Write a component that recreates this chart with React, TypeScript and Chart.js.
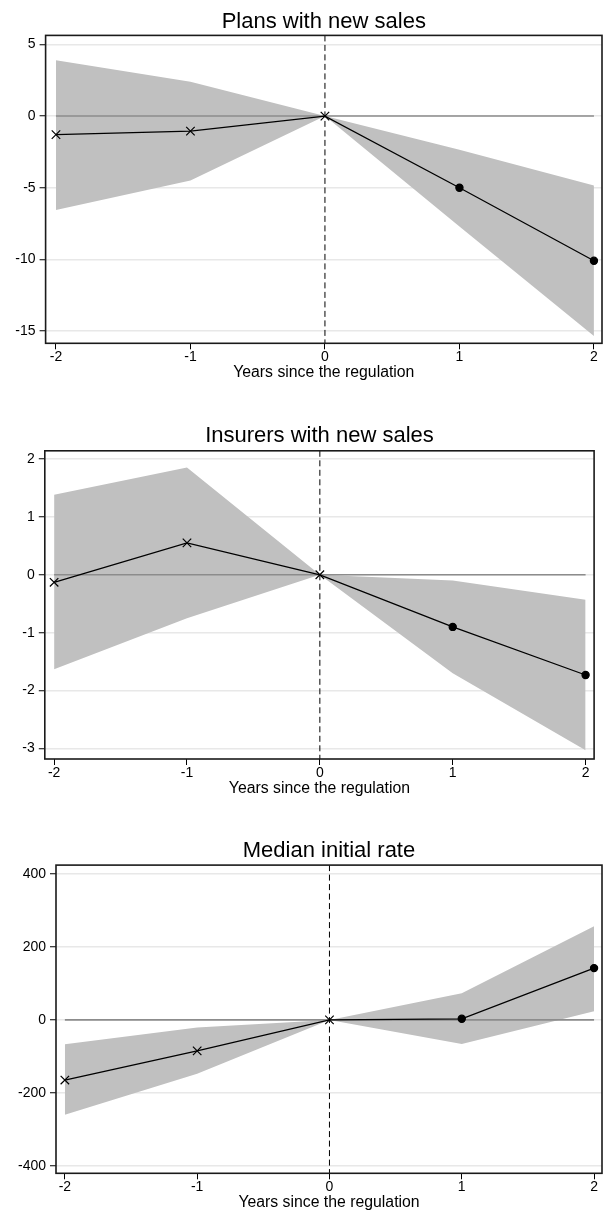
import React, { useEffect, useRef } from 'react';
import { Chart, registerables } from 'chart.js';

Chart.register(...registerables);

const FONT = "'Liberation Sans', Arial, Helvetica, sans-serif";

// ---------- data ----------
const years = [-2, -1, 0, 1, 2];
const xTickValues = [-2, -1, 0, 1, 2];
const xAxisLabel = 'Years since the regulation';

const plansTitle = 'Plans with new sales';
const plansEstimate = [-1.3, -1.05, 0, -5.0, -10.1];
const plansUpper = [3.9, 2.4, 0, -2.35, -4.85];
const plansLower = [-6.55, -4.5, 0, -7.7, -15.35];
const plansTicks = [5, 0, -5, -10, -15];

const insurersTitle = 'Insurers with new sales';
const insurersEstimate = [-0.13, 0.55, 0, -0.9, -1.73];
const insurersUpper = [1.38, 1.85, 0, -0.1, -0.43];
const insurersLower = [-1.63, -0.75, 0, -1.7, -3.03];
const insurersTicks = [2, 1, 0, -1, -2, -3];

const rateTitle = 'Median initial rate';
const rateEstimate = [-165, -85, 0, 3, 142];
const rateUpper = [-67, -21, 0, 73, 257];
const rateLower = [-260, -148, 0, -66, 24];
const rateTicks = [400, 200, 0, -200, -400];

// ---------- layout (per panel) ----------
type Layout = {
  height: number;
  yAxisWidth: number;
  padRight: number;
  padBottom: number;
  titleTop: number;
  titleBottom: number;
  xMin: number;
  xMax: number;
  yMin: number;
  yMax: number;
};

const framePlugin = {
  id: 'frameAndVline',
  afterDatasetsDraw(chart: any) {
    const { ctx, chartArea: a, scales } = chart;
    const px = scales.x.getPixelForValue(0);
    ctx.save();
    ctx.strokeStyle = '#000';
    ctx.lineWidth = 1;
    ctx.setLineDash([6, 3.5]);
    ctx.beginPath();
    ctx.moveTo(px, a.top);
    ctx.lineTo(px, a.bottom);
    ctx.stroke();
    ctx.setLineDash([]);
    ctx.lineWidth = 1.6;
    ctx.strokeStyle = '#1a1a1a';
    ctx.strokeRect(a.left, a.top, a.right - a.left, a.bottom - a.top);
    ctx.restore();
  },
};

function pts(vals: number[]) {
  return years.map((x, i) => ({ x, y: vals[i] }));
}

function makeConfig(
  title: string,
  est: number[],
  up: number[],
  lo: number[],
  yTicks: number[],
  L: Layout
): any {
  return {
    type: 'line',
    data: {
      datasets: [
        {
          data: pts(up),
          borderColor: 'rgba(0,0,0,0)',
          borderWidth: 0,
          pointRadius: 0,
          backgroundColor: '#c0c0c0',
          fill: '+1',
          order: 3,
        },
        {
          data: pts(lo),
          borderColor: 'rgba(0,0,0,0)',
          borderWidth: 0,
          pointRadius: 0,
          fill: false,
          order: 4,
        },
        {
          data: [
            { x: years[0], y: 0 },
            { x: years[years.length - 1], y: 0 },
          ],
          borderColor: '#8c8c8c',
          borderWidth: 1.6,
          pointRadius: 0,
          fill: false,
          order: 2,
        },
        {
          data: pts(est),
          borderColor: '#000',
          borderWidth: 1.3,
          fill: false,
          tension: 0,
          pointStyle: years.map((y) => (y <= 0 ? 'crossRot' : 'circle')),
          pointRadius: years.map((y) => (y <= 0 ? 6 : 3.6)),
          pointBackgroundColor: '#000',
          pointBorderColor: '#000',
          pointBorderWidth: 1.2,
          order: 1,
        },
      ],
    },
    options: {
      animation: false,
      responsive: false,
      devicePixelRatio: 1,
      events: [],
      layout: {
        autoPadding: false,
        padding: { left: 0, top: 0, right: L.padRight, bottom: L.padBottom },
      },
      plugins: {
        legend: { display: false },
        tooltip: { enabled: false },
        title: {
          display: true,
          text: title,
          fullSize: false,
          color: '#000',
          font: { family: FONT, size: 22, weight: 'normal', lineHeight: 1.2 },
          padding: { top: L.titleTop, bottom: L.titleBottom },
        },
      },
      scales: {
        x: {
          type: 'linear',
          min: L.xMin,
          max: L.xMax,
          afterBuildTicks: (s: any) => {
            s.ticks = xTickValues.map((v) => ({ value: v }));
          },
          afterFit: (s: any) => {
            s.height = 39;
            s.paddingLeft = 0;
            s.paddingRight = 0;
          },
          ticks: {
            color: '#000',
            padding: 1,
            maxRotation: 0,
            autoSkip: false,
            font: { family: FONT, size: 14, lineHeight: 1 },
            callback: (v: any) => String(v),
          },
          grid: {
            drawOnChartArea: false,
            tickLength: 6,
            tickColor: '#000',
            tickWidth: 1,
          },
          border: { display: false },
          title: {
            display: true,
            text: xAxisLabel,
            color: '#000',
            font: { family: FONT, size: 15.8, lineHeight: 1.2 },
            padding: { top: 0, bottom: 0 },
          },
        },
        y: {
          type: 'linear',
          min: L.yMin,
          max: L.yMax,
          afterBuildTicks: (s: any) => {
            s.ticks = yTicks.map((v) => ({ value: v }));
          },
          afterFit: (s: any) => {
            s.width = L.yAxisWidth;
            s.paddingTop = 0;
            s.paddingBottom = 0;
          },
          ticks: {
            color: '#000',
            padding: 4,
            autoSkip: false,
            font: { family: FONT, size: 14, lineHeight: 1 },
            callback: (v: any) => String(v),
          },
          grid: {
            color: '#e8e8e8',
            lineWidth: 1.5,
            tickLength: 6,
            tickColor: '#000',
            tickWidth: 1,
          },
          border: { display: false },
        },
      },
    },
    plugins: [framePlugin],
  };
}

function Panel(props: {
  title: string;
  est: number[];
  up: number[];
  lo: number[];
  yTicks: number[];
  layout: Layout;
}) {
  const ref = useRef<HTMLCanvasElement | null>(null);
  useEffect(() => {
    if (!ref.current) return;
    const chart = new Chart(
      ref.current,
      makeConfig(props.title, props.est, props.up, props.lo, props.yTicks, props.layout)
    );
    return () => chart.destroy();
  }, []);
  return (
    <canvas
      ref={ref}
      width={605}
      height={props.layout.height}
      style={{ display: 'block', width: 605, height: props.layout.height }}
    />
  );
}

const plansLayout: Layout = {
  height: 400,
  yAxisWidth: 45.6,
  padRight: 3,
  padBottom: 17.7,
  titleTop: 9,
  titleBottom: 0,
  xMin: -2.077,
  xMax: 2.06,
  yMin: -15.86,
  yMax: 5.63,
};

const insurersLayout: Layout = {
  height: 410,
  yAxisWidth: 44.8,
  padRight: 10.9,
  padBottom: 12,
  titleTop: 23,
  titleBottom: 1.4,
  xMin: -2.07,
  xMax: 2.064,
  yMin: -3.18,
  yMax: 2.14,
};

const rateLayout: Layout = {
  height: 410,
  yAxisWidth: 56,
  padRight: 3,
  padBottom: 7.7,
  titleTop: 27.5,
  titleBottom: 1.2,
  xMin: -2.067,
  xMax: 2.06,
  yMin: -420.8,
  yMax: 424.6,
};

export default function App() {
  return (
    <div
      style={{
        position: 'absolute',
        left: 0,
        top: 0,
        width: 605,
        height: 1220,
        background: '#fff',
      }}
    >
      <Panel
        title={plansTitle}
        est={plansEstimate}
        up={plansUpper}
        lo={plansLower}
        yTicks={plansTicks}
        layout={plansLayout}
      />
      <Panel
        title={insurersTitle}
        est={insurersEstimate}
        up={insurersUpper}
        lo={insurersLower}
        yTicks={insurersTicks}
        layout={insurersLayout}
      />
      <Panel
        title={rateTitle}
        est={rateEstimate}
        up={rateUpper}
        lo={rateLower}
        yTicks={rateTicks}
        layout={rateLayout}
      />
    </div>
  );
}
